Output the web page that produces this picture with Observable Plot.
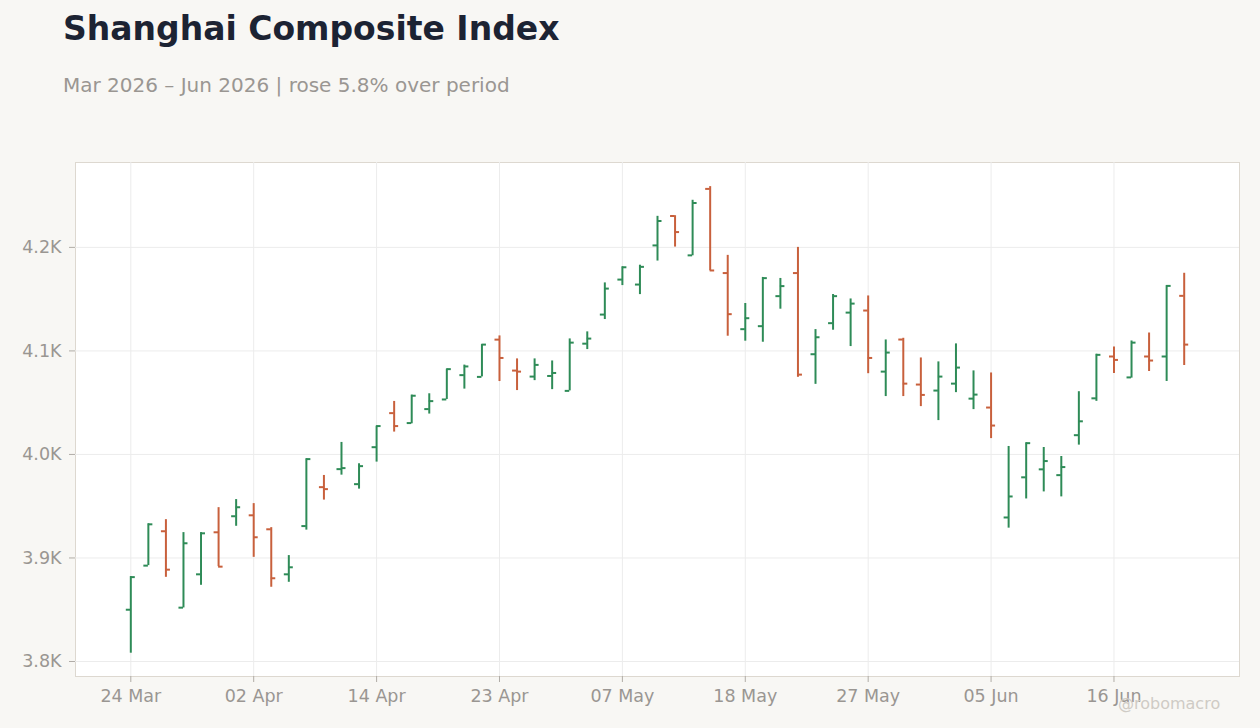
<!DOCTYPE html>
<html>
<head>
<meta charset="utf-8">
<script src="https://cdn.jsdelivr.net/npm/d3@7"></script>
<script src="https://cdn.jsdelivr.net/npm/@observablehq/plot@0.6"></script>
<style>
  html, body { margin: 0; padding: 0; background: #f8f7f4; }
  body { width: 1260px; height: 728px; position: relative; overflow: hidden; font-family: "DejaVu Sans", sans-serif; }
  #title { position: absolute; left: 63px; top: 12px; font-size: 33px; line-height: 33px; font-weight: bold; color: #1c2333; white-space: nowrap; }
  #subtitle { position: absolute; left: 63px; top: 75px; font-size: 20px; line-height: 20px; color: #9a9692; white-space: nowrap; }
  #chart { position: absolute; left: 0; top: 130px; }
  #mark { position: absolute; left: 1118px; top: 696px; font-size: 16px; line-height: 16px; color: #cfcbc5; white-space: nowrap; }
</style>
</head>
<body>
<div id="title">Shanghai Composite Index</div>
<div id="subtitle">Mar 2026 – Jun 2026 | rose 5.8% over period</div>
<div id="chart"></div>
<div id="mark">@robomacro</div>
<script>
const dates = [
  "2026-03-24","2026-03-25","2026-03-26","2026-03-27","2026-03-30","2026-03-31",
  "2026-04-01","2026-04-02","2026-04-03","2026-04-07","2026-04-08","2026-04-09","2026-04-10",
  "2026-04-13","2026-04-14","2026-04-15","2026-04-16","2026-04-17","2026-04-20","2026-04-21",
  "2026-04-22","2026-04-23","2026-04-24","2026-04-27","2026-04-28","2026-04-29","2026-04-30",
  "2026-05-06","2026-05-07","2026-05-08","2026-05-11","2026-05-12","2026-05-13","2026-05-14",
  "2026-05-15","2026-05-18","2026-05-19","2026-05-20","2026-05-21","2026-05-22","2026-05-25",
  "2026-05-26","2026-05-27","2026-05-28","2026-05-29","2026-06-01","2026-06-02","2026-06-03",
  "2026-06-04","2026-06-05","2026-06-08","2026-06-09","2026-06-10","2026-06-11","2026-06-12",
  "2026-06-15","2026-06-16","2026-06-17","2026-06-18","2026-06-22","2026-06-23"
];
const open = [3850, 3892.6, 3925.8, 3852, 3884.2, 3924.8, 3940.3, 3941.2, 3927.7, 3884.2,
  3930.8, 3968.4, 3985.8, 3971.3, 4007, 4039.9, 4030.3, 4043.8, 4053.1, 4076.6,
  4074.9, 4110.9, 4081, 4075.2, 4075.8, 4061.4, 4107, 4135.1, 4168.9, 4164.1,
  4201.9, 4230.3, 4192.3, 4256.5, 4175.2, 4121, 4123.9, 4152.9, 4175.2, 4096.8,
  4126.8, 4137, 4139, 4080, 4111, 4067.5, 4061.7, 4068.4, 4053.9, 4045.3,
  3939.1, 3977.9, 3985.6, 3980, 4018.6, 4054.2, 4094.6, 4074.4, 4094.6, 4094.6, 4153.2];
const high = [3882, 3933, 3937, 3924.5, 3924.5, 3948.6, 3956.4, 3952.5, 3929.3, 3902.3,
  3995.8, 3979.7, 4011.6, 3991, 4027.4, 4051.2, 4057.3, 4058.6, 4082.4, 4086.3,
  4106.1, 4114.5, 4092.3, 4092.3, 4090.3, 4111.6, 4118.4, 4165.7, 4181.2, 4182.8,
  4230, 4230.6, 4245.5, 4258.7, 4192.3, 4145.8, 4171, 4170, 4200, 4120.6,
  4154.5, 4150.2, 4153.1, 4110.6, 4112.2, 4093.2, 4089.4, 4106.8, 4080.7, 4078.7,
  4007.7, 4011.2, 4006.7, 3998, 4060.6, 4096.8, 4103.8, 4109.6, 4117.3, 4163.1, 4175];
const low = [3808, 3892.6, 3881.3, 3851.7, 3873.6, 3891.6, 3930.6, 3900.6, 3871.7, 3876.5,
  3926.9, 3955.9, 3980, 3966.5, 3992.6, 4021.6, 4029.6, 4039, 4053.1, 4063.1,
  4074.9, 4070.4, 4061.7, 4071.3, 4062.6, 4061.4, 4101.3, 4130.3, 4163.1, 4154.4,
  4186.8, 4200.3, 4191.9, 4177.4, 4114.2, 4109.4, 4108.4, 4140.3, 4074.5, 4067.7,
  4120, 4104.2, 4078, 4055.9, 4055.9, 4046.2, 4032.7, 4059.7, 4043.3, 4015.3,
  3928.8, 3957, 3963.8, 3959, 4009, 4051.3, 4078.2, 4073.7, 4080.1, 4070.5, 4085.9];
const close = [3881.5, 3932.5, 3888.7, 3914.2, 3923.8, 3891.6, 3949, 3920, 3880.4, 3891,
  3995.5, 3966.5, 3986.8, 3988.7, 4027.4, 4027.4, 4056.7, 4051.5, 4082.4, 4085,
  4106.1, 4093.2, 4080, 4086.5, 4078.7, 4108, 4111.9, 4160.2, 4180.8, 4181.2,
  4225.5, 4214.8, 4242.9, 4177.7, 4135.5, 4131.6, 4170.3, 4162.6, 4077.1, 4113.2,
  4152.9, 4145.7, 4093.2, 4098.4, 4068.4, 4057.5, 4075.2, 4083.9, 4057.8, 4027.9,
  3959.4, 4010.9, 3993.6, 3987.8, 4032, 4096.2, 4091.3, 4108, 4090.7, 4162.8, 4106.1];
const yTicks = [3800, 3900, 4000, 4100, 4200];
const xTicks = ["2026-03-24","2026-04-02","2026-04-14","2026-04-23","2026-05-07","2026-05-18","2026-05-27","2026-06-05","2026-06-16"];

const UP = "#2e8b57", DOWN = "#c8603c";
const data = dates.map((d, i) => ({date: d, open: open[i], high: high[i], low: low[i], close: close[i],
  color: close[i] >= open[i] ? UP : DOWN}));

const mon = ["Jan","Feb","Mar","Apr","May","Jun","Jul","Aug","Sep","Oct","Nov","Dec"];
const fmtDate = d => d.slice(8, 10) + " " + mon[+d.slice(5, 7) - 1];
const fmtY = v => (v / 1000).toFixed(1) + "K";

const W = 1260, ML = 75, MR = 21, PO = 2.65, TICK = 4.5;
const bw = (W - ML - MR) / (dates.length + 2 * PO);
const half = bw / 2;

const chart = Plot.plot({
  width: W,
  height: 598,
  marginLeft: ML,
  marginRight: MR,
  marginTop: 32,
  marginBottom: 52,
  style: {fontFamily: "DejaVu Sans, sans-serif", fontSize: "17.5px", background: "transparent", overflow: "visible"},
  x: {type: "band", domain: dates, paddingInner: 0, paddingOuter: PO, round: false, label: null},
  y: {domain: [3785.5, 4282], label: null},
  marks: [
    Plot.frame({fill: "#ffffff", stroke: "#ddd8d0"}),
    Plot.gridY(yTicks, {stroke: "#ececec", strokeOpacity: 1}),
    Plot.gridX(xTicks, {stroke: "#ececec", strokeOpacity: 1}),
    Plot.axisY(yTicks, {tickFormat: fmtY, tickSize: 6, tickPadding: 8, stroke: "#b0aca6", color: "#9a9692", fontSize: 17.5, label: null}),
    Plot.axisX(xTicks, {tickFormat: fmtDate, tickSize: 6, tickPadding: 7, stroke: "#b0aca6", color: "#9a9692", fontSize: 17.5, label: null}),
    Plot.ruleX(data, {x: "date", y1: "low", y2: "high", stroke: "color", strokeWidth: 2}),
    Plot.tickY(data, {x: "date", y: "open", stroke: "color", strokeWidth: 2, insetLeft: half - TICK, insetRight: half}),
    Plot.tickY(data, {x: "date", y: "close", stroke: "color", strokeWidth: 2, insetLeft: half, insetRight: half - TICK})
  ]
});
document.getElementById("chart").appendChild(chart);
</script>
</body>
</html>
